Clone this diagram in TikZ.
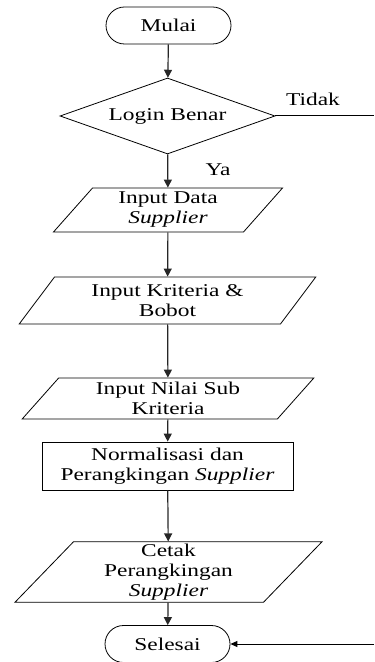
\documentclass[tikz,border=0pt]{standalone}
\usepackage{fontspec}
\setmainfont[FakeStretch=1.3]{Liberation Serif}
\usetikzlibrary{shapes.geometric, arrows.meta}

\begin{document}
\begin{tikzpicture}[x=0.5pt, y=-0.5pt,
  font=\fontsize{9}{10}\selectfont,
  term/.style={draw, rounded corners=9.25pt, minimum width=62.5pt, minimum height=18.5pt, inner sep=1pt},
  io/.style={draw, trapezium, trapezium left angle=56, trapezium right angle=124, trapezium stretches=true, align=center, inner sep=1pt},
  proc/.style={draw, align=center, minimum width=125.5pt, minimum height=24pt, inner sep=1pt},
  dec/.style={draw, diamond, aspect=2.83, minimum width=107.5pt, minimum height=38pt, inner sep=0pt},
  flow/.style={draw=black!85, line width=0.6pt, -{Triangle[length=4pt, width=4pt]}}
]
\useasboundingbox (0,0) rectangle (374,662);

\node[term] (t1) at (168.5, 25.5) {Mulai};
\node[dec] (d1) at (167.5, 116) {Login Benar};
\node[io, minimum width=115pt, minimum height=22pt] (p1) at (168, 210) {Input Data\\\textit{Supplier}};
\node[io, minimum width=148.5pt, minimum height=23.5pt] (p2) at (167.5, 300.5) {Input Kriteria \&\\Bobot};
\node[io, minimum width=146pt, minimum height=20.5pt] (p3) at (168, 398.5) {Input Nilai Sub\\Kriteria};
\node[proc] (r1) at (167.5, 466) {Normalisasi dan\\Perangkingan \textit{Supplier}};
\node[io, minimum width=153.5pt, minimum height=30pt] (p4) at (168.5, 572) {Cetak\\Perangkingan\\\textit{Supplier}};
\node[term] (t2) at (167.5, 644) {Selesai};

\coordinate (c1) at (374, 116);
\coordinate (c2) at (374, 644);

\node (l1) at (313, 99) {Tidak};
\node (l2) at (218, 170) {Ya};

\draw[flow] (t1) -- (d1);
\draw[flow] (d1) -- (p1);
\draw[flow] (p1) -- (p2);
\draw[flow] (p2) -- (p3);
\draw[flow] (p3) -- (r1);
\draw[flow] (r1) -- (p4);
\draw[flow] (p4) -- (t2);
\draw[line width=0.5pt] (d1.east) -- (c1);
\draw[line width=0.5pt, -{Triangle[length=3.5pt, width=3pt]}] (c2) -- (t2.east);
\end{tikzpicture}
\end{document}
